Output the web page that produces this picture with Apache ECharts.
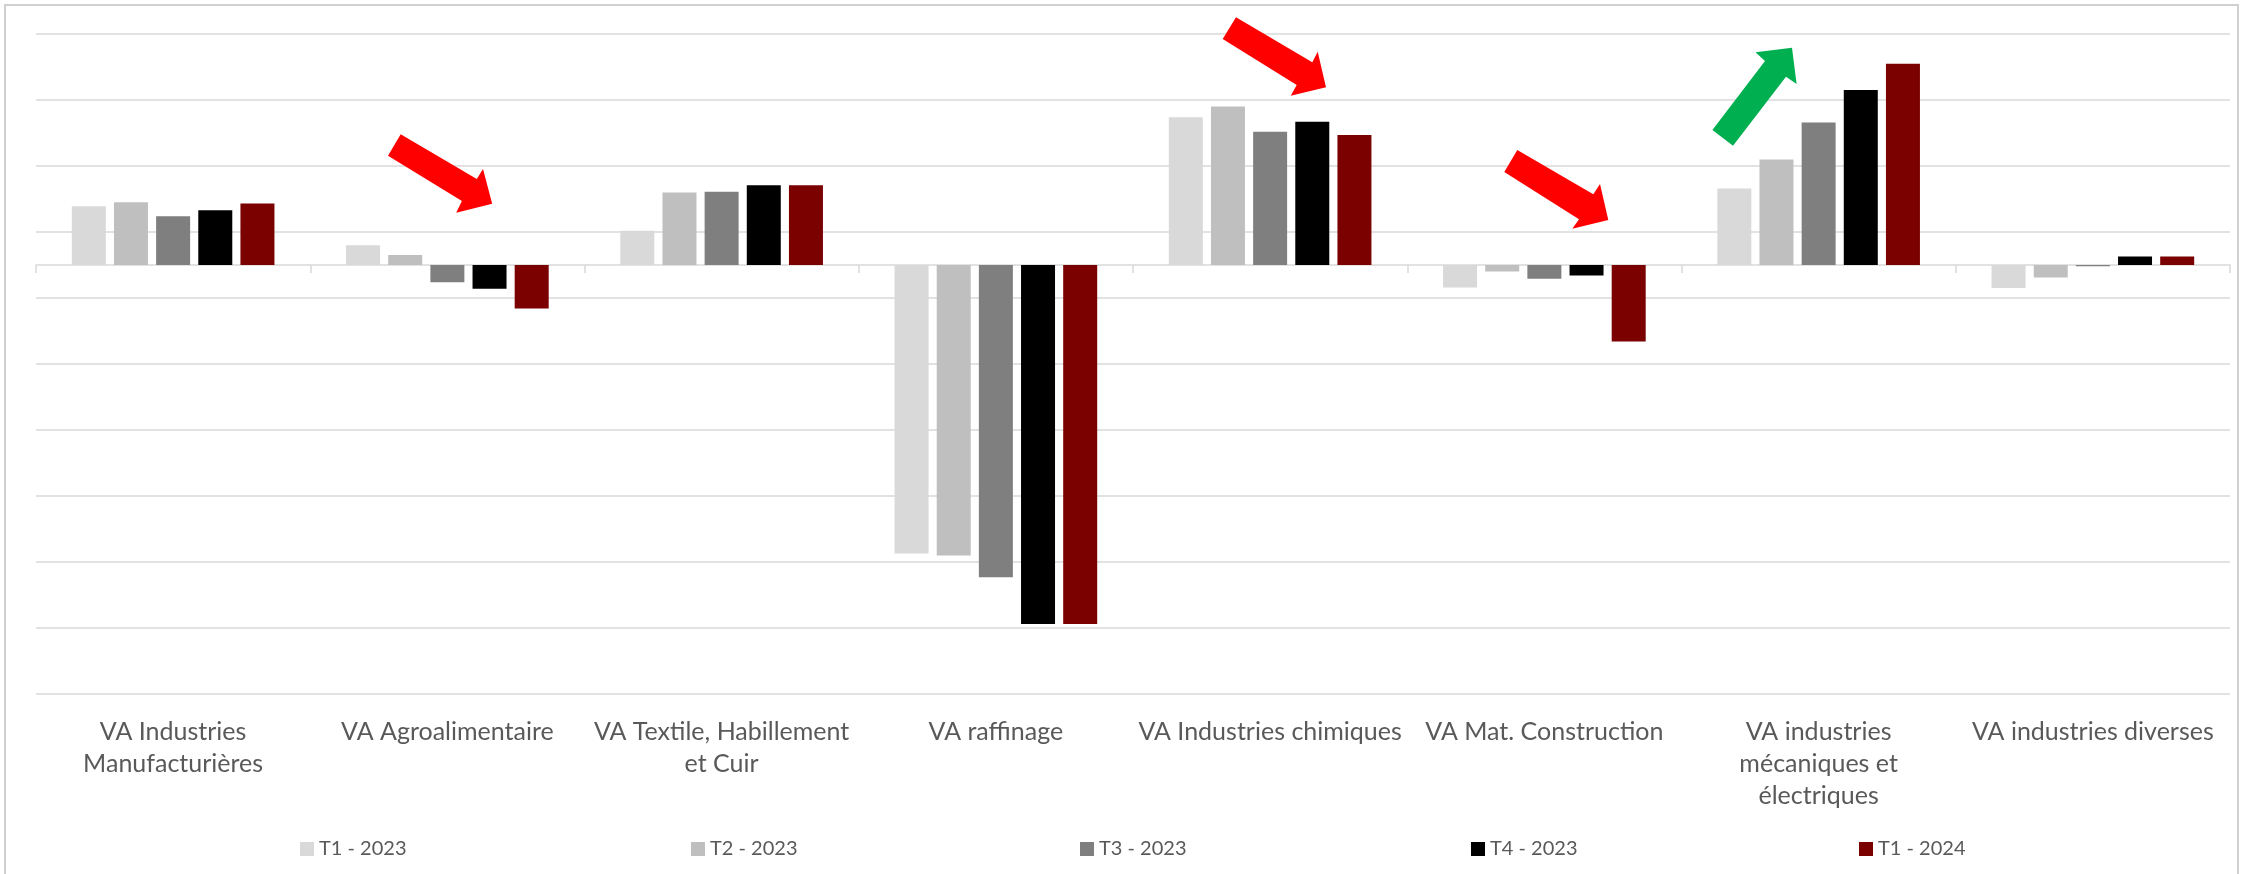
<!DOCTYPE html>
<html>
<head>
<meta charset="utf-8">
<script src="https://cdn.jsdelivr.net/npm/echarts@6/dist/echarts.min.js"></script>
<style>
  html, body { margin: 0; padding: 0; background: #fff; }
  #chart { width: 2247px; height: 874px; }
</style>
</head>
<body>
<div id="chart"></div>
<script>
// categories (line breaks as in the picture)
var categories = [
  'VA Industries\nManufacturières',
  'VA Agroalimentaire',
  'VA Textile, Habillement\net Cuir',
  'VA raffinage',
  'VA Industries chimiques',
  'VA Mat. Construction',
  'VA industries\nmécaniques et\nélectriques',
  'VA industries diverses'
];

// series names
var seriesNames = ['T1 - 2023', 'T2 - 2023', 'T3 - 2023', 'T4 - 2023', 'T1 - 2024'];

// values (one unit = one gridline step)
var t1_2023 = [0.89, 0.30, 0.52, -4.37, 2.24, -0.34, 1.16, -0.35];
var t2_2023 = [0.95, 0.15, 1.10, -4.40, 2.40, -0.10, 1.60, -0.19];
var t3_2023 = [0.74, -0.26, 1.11, -4.73, 2.02, -0.21, 2.16, -0.02];
var t4_2023 = [0.83, -0.36, 1.21, -5.44, 2.17, -0.16, 2.65, 0.13];
var t1_2024 = [0.93, -0.66, 1.21, -5.44, 1.97, -1.16, 3.05, 0.13];

var seriesColors = ['#d9d9d9', '#bfbfbf', '#7f7f7f', '#000000', '#7b0000'];
var seriesData = [t1_2023, t2_2023, t3_2023, t4_2023, t1_2024];

var FONT = 'Lato, "Open Sans", sans-serif';
var gridColor = '#d9d9d9';

//arrows drawn on top of the chart
function arrow(points, color) {
  return {
    type: 'polygon',
    shape: { points: points },
    style: { fill: color },
    z: 100
  };
}

var legendLeft = [295, 686, 1075, 1466, 1854];
var legends = seriesNames.map(function (name, i) {
  return {
    data: [name],
    left: legendLeft[i],
    top: 834,
    icon: 'rect',
    itemWidth: 14,
    itemHeight: 14,
    itemGap: 0,
    textStyle: { fontFamily: FONT, fontSize: 20, color: '#595959', padding: [0, 0, 0, 0] }
  };
});

var series = seriesNames.map(function (name, i) {
  return {
    name: name,
    type: 'bar',
    xAxisIndex: 0,
    yAxisIndex: 0,
    data: seriesData[i],
    barWidth: 34,
    barGap: '24%',
    itemStyle: { color: seriesColors[i] }
  };
});

var option = {
  animation: false,
  backgroundColor: '#fff',
  grid: { left: 36, right: 17, top: 34, bottom: 180, containLabel: false },
  legend: legends,
  xAxis: [
    {
      type: 'category',
      position: 'bottom',
      data: categories,
      axisLine: { show: false, onZero: false },
      axisTick: { show: false },
      axisLabel: {
        interval: 0,
        margin: 22,
        fontFamily: FONT,
        fontSize: 25,
        lineHeight: 32,
        color: '#595959',
        align: 'center'
      }
    },
    {
      type: 'category',
      position: 'top',
      data: categories,
      axisLine: { show: true, onZero: true, onZeroAxisIndex: 0, lineStyle: { color: gridColor, width: 1.5 } },
      axisTick: { show: true, inside: true, length: 8, interval: 0, lineStyle: { color: gridColor, width: 1.5 } },
      axisLabel: { show: false }
    }
  ],
  yAxis: [
    {
      type: 'value',
      min: -6.5,
      max: 3.5,
      axisLine: { show: false },
      axisTick: { show: false },
      axisLabel: { show: false },
      splitLine: { show: false }
    },
    {
      type: 'value',
      position: 'right',
      min: 0,
      max: 10,
      interval: 1,
      axisLine: { show: false },
      axisTick: { show: false },
      axisLabel: { show: false },
      splitLine: { show: true, lineStyle: { color: gridColor, width: 1.5 } }
    }
  ],
  series: series,
  graphic: [
    {
      type: 'rect',
      shape: { x: 5, y: 5, width: 2233, height: 900 },
      style: { fill: null, stroke: '#d0d0d0', lineWidth: 2 },
      z: 100
    },
    arrow([[400.7, 134.3], [476.8, 179], [483, 169], [492.2, 203.7], [456.2, 212.7], [461.9, 201], [388, 155.7]], '#ff0000'),
    arrow([[1236, 17.3], [1312.3, 62.3], [1317.7, 51.7], [1326, 87.3], [1290.7, 95.7], [1296.7, 85], [1222.7, 39]], '#ff0000'),
    arrow([[1517.3, 150], [1593.3, 194.3], [1600, 184], [1608.3, 220], [1572.3, 228.7], [1579, 219.3], [1504.3, 172]], '#ff0000'),
    arrow([[1712.4, 130], [1765, 61], [1755.5, 52.3], [1792, 47.7], [1796.6, 84], [1786, 76.7], [1733, 145.7]], '#00b050')
  ]
};

var chart = echarts.init(document.getElementById('chart'));
chart.setOption(option);
</script>
</body>
</html>
